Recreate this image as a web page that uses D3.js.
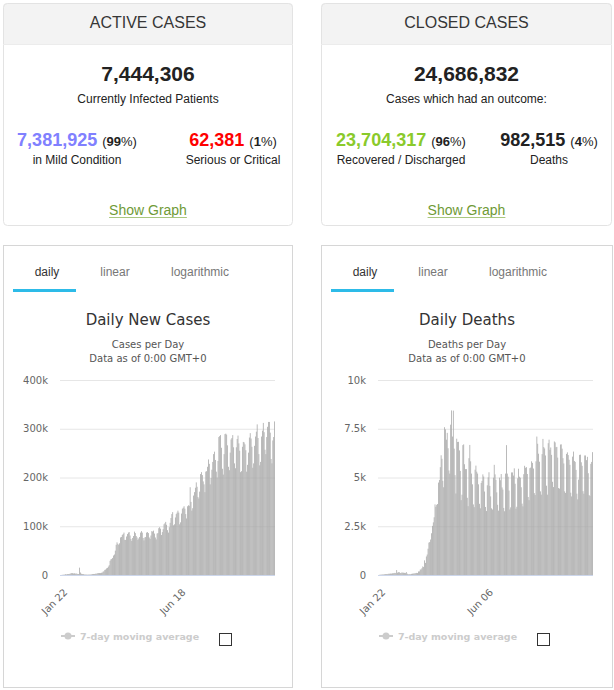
<!DOCTYPE html>
<html>
<head>
<meta charset="utf-8">
<script src="https://cdn.jsdelivr.net/npm/d3@7"></script>
<style>
body { margin: 0; background: #fff; }
#page { width: 614px; height: 690px; }
</style>
</head>
<body>
<div id="page"></div>
<script>
// daily values from Jan 22, 2020 (one per day)
var startDate = new Date(2020, 0, 22)

var casesDaily = [
    0, 100, 300, 500, 700, 800, 1700,
    1300, 1800, 2000, 2100, 2600, 3200, 3900,
    3700, 3200, 3500, 2700, 3100, 2600, 2100,
    2000, 15100, 5100, 2600, 2100, 2000, 1900,
    600, 1000, 900, 700, 800, 900, 900,
    1100, 1400, 1800, 2100, 1900, 2600, 2700,
    2900, 3900, 3900, 4000, 3900, 4500, 4900,
    7000, 7600, 10500, 11200, 13500, 14600, 17200,
    20000, 29000, 32000, 33000, 35000, 40000, 42000,
    50000, 62000, 67000, 64000, 62000, 65000, 77000,
    78000, 82000, 84000, 87000, 72000, 72000, 79000,
    84000, 87000, 88000, 81000, 74000, 70000, 76000,
    80000, 89000, 86000, 80000, 77000, 72000, 75000,
    78000, 87000, 90000, 87000, 76000, 71000, 77000,
    78000, 87000, 88000, 86000, 77000, 74000, 81000,
    90000, 89000, 91000, 85000, 77000, 73000, 85000,
    86000, 96000, 98000, 95000, 82000, 88000, 94000,
    104000, 106000, 109000, 103000, 92000, 87000, 98000,
    107000, 117000, 125000, 129000, 102000, 104000, 118000,
    125000, 128000, 132000, 128000, 104000, 108000, 126000,
    136000, 138000, 141000, 136000, 125000, 116000, 141000,
    143000, 142000, 180000, 150000, 132000, 137000, 163000,
    170000, 179000, 190000, 181000, 160000, 157000, 171000,
    207000, 211000, 205000, 192000, 186000, 170000, 212000,
    213000, 222000, 237000, 228000, 186000, 199000, 216000,
    232000, 248000, 253000, 236000, 212000, 200000, 234000,
    283000, 285000, 287000, 261000, 218000, 206000, 248000,
    289000, 290000, 288000, 266000, 222000, 215000, 251000,
    278000, 281000, 287000, 262000, 229000, 219000, 262000,
    279000, 286000, 270000, 255000, 211000, 213000, 263000,
    273000, 272000, 268000, 256000, 212000, 226000, 251000,
    282000, 291000, 280000, 263000, 220000, 229000, 265000,
    284000, 294000, 309000, 281000, 248000, 225000, 232000,
    284000, 296000, 312000, 293000, 257000, 248000, 283000,
    304000, 314000, 314000, 292000, 238000, 229000, 276000,
    283000, 315000
]

var deathsDaily = [
    0, 8, 16, 15, 24, 26, 26,
    38, 43, 46, 45, 57, 64, 66,
    73, 73, 86, 89, 97, 108, 97,
    254, 121, 143, 142, 105, 98, 136,
    115, 118, 109, 97, 150, 71, 52,
    29, 44, 37, 58, 67, 72, 84,
    80, 100, 108, 100, 182, 186, 280,
    285, 350, 440, 410, 750, 620, 950,
    1050, 1350, 1660, 1690, 1820, 2140, 2520,
    2700, 2960, 3620, 3500, 3600, 3640, 4740,
    4870, 5530, 6140, 5960, 4830, 4500, 7580,
    7470, 6940, 7290, 6500, 5360, 5200, 7710,
    8440, 7100, 8430, 6480, 5120, 4180, 6990,
    6820, 6830, 6390, 5340, 3840, 4120, 6660,
    6700, 5680, 5430, 5430, 3960, 3530, 5990,
    6670, 5830, 5200, 4650, 3620, 3480, 5400,
    5610, 5300, 5200, 4650, 3650, 3420, 4720,
    4830, 5160, 5050, 4280, 3490, 3280, 4600,
    5010, 5270, 4570, 4030, 3420, 3360, 4990,
    5650, 5160, 4880, 4240, 3600, 3300, 4990,
    4860, 5180, 4490, 4380, 3440, 3270, 5200,
    6660, 5200, 5040, 4330, 3360, 3470, 5260,
    5260, 5100, 5470, 4680, 3400, 3500, 4960,
    5450, 5040, 4990, 4500, 3660, 3520, 5170,
    5600, 5500, 5530, 5180, 4000, 3840, 5480,
    5510, 5830, 5750, 5460, 4200, 4100, 5830,
    7100, 6730, 6220, 5810, 4290, 4120, 6200,
    6980, 6560, 6490, 6130, 4580, 4120, 6760,
    6940, 6420, 6540, 6160, 4780, 4510, 6850,
    6800, 6550, 6570, 6020, 4460, 4430, 6690,
    6700, 6480, 5990, 5720, 4290, 4210, 6210,
    6290, 6150, 5910, 5650, 4220, 4030, 6070,
    6330, 5850, 5800, 5390, 4170, 3880, 4890,
    6160, 6170, 5780, 5600, 4300, 4170, 6130,
    6130, 5890, 6060, 5220, 4100, 4050, 5700,
    5800, 6300
]

var casesTicks = [0, 100000, 200000, 300000, 400000]
var deathsTicks = [0, 2500, 5000, 7500, 10000]
var casesDateTicks = ["Jan 22", "Jun 18"]
var deathsDateTicks = ["Jan 22", "Jun 06"]
var tabNames = ["daily", "linear", "logarithmic"]

var cardTitles = ["ACTIVE CASES", "CLOSED CASES"]
var cardTotals = ["7,444,306", "24,686,832"]
var cardCaptions = ["Currently Infected Patients", "Cases which had an outcome:"]
var cardParts = [
    [{value: "7,381,925", pct: "99", label: "in Mild Condition", color: "#8080ff"},
     {value: "62,381", pct: "1", label: "Serious or Critical", color: "#ff0000"}],
    [{value: "23,704,317", pct: "96", label: "Recovered / Discharged", color: "#8aca2b"},
     {value: "982,515", pct: "4", label: "Deaths", color: "#222"}]
]

var width = 614
var height = 690
var svg

createPage()

function createPage()
{
    svg = d3.select("#page")
        .append("svg")
        .attr("width", width)
        .attr("height", height)
        .attr("display", "block")

    drawCard(0, 3, 290, [77, 233])
    drawCard(1, 321, 291, [401, 549])

    drawChart(3, 290, casesDaily, casesTicks, casesDateTicks, "Daily New Cases", "Cases per Day")
    drawChart(321, 292, deathsDaily, deathsTicks, deathsDateTicks, "Daily Deaths", "Deaths per Day")
}

function drawCard(i, x0, w, centers)
{
    var g = svg.append("g")
    var cx = x0 + w / 2

    g.append("defs").append("clipPath")
        .attr("id", "card-clip" + i)
        .append("rect")
        .attr("x", x0).attr("y", 3)
        .attr("width", w).attr("height", 223)
        .attr("rx", 4)

    g.append("rect")
        .attr("x", x0).attr("y", 3)
        .attr("width", w).attr("height", 41)
        .attr("fill", "#f3f3f3")
        .attr("clip-path", "url(#card-clip" + i + ")")
    g.append("rect")
        .attr("x", x0 + 0.5).attr("y", 3.5)
        .attr("width", w - 1).attr("height", 222)
        .attr("rx", 4)
        .attr("fill", "none")
        .attr("stroke", "#e3e3e3")
    g.append("line")
        .attr("x1", x0).attr("x2", x0 + w)
        .attr("y1", 44.5).attr("y2", 44.5)
        .attr("stroke", "#ececec")

    g.append("text")
        .attr("x", cx).attr("y", 28)
        .attr("text-anchor", "middle")
        .style("font", "16px 'Liberation Sans', Arial, sans-serif")
        .attr("fill", "#363636")
        .text(cardTitles[i])

    g.append("text")
        .attr("x", cx).attr("y", 81)
        .attr("text-anchor", "middle")
        .style("font", "bold 21px 'Liberation Sans', Arial, sans-serif")
        .attr("fill", "#222")
        .text(cardTotals[i])

    g.append("text")
        .attr("x", cx).attr("y", 103)
        .attr("text-anchor", "middle")
        .style("font", "12px 'Liberation Sans', Arial, sans-serif")
        .attr("fill", "#222")
        .text(cardCaptions[i])

    cardParts[i].forEach(function(p, j)
    {
        var t = g.append("text")
            .attr("x", centers[j]).attr("y", 146)
            .attr("text-anchor", "middle")
            .style("font-family", "'Liberation Sans', Arial, sans-serif")
        t.append("tspan")
            .style("font-size", "18px").style("font-weight", "bold")
            .attr("fill", p.color)
            .text(p.value + " ")
        t.append("tspan")
            .style("font-size", "13px")
            .attr("fill", "#222")
            .text("(")
        t.append("tspan")
            .style("font-size", "13px").style("font-weight", "bold")
            .attr("fill", "#222")
            .text(p.pct)
        t.append("tspan")
            .style("font-size", "13px")
            .attr("fill", "#222")
            .text("%)")

        g.append("text")
            .attr("x", centers[j]).attr("y", 164)
            .attr("text-anchor", "middle")
            .style("font", "12px 'Liberation Sans', Arial, sans-serif")
            .attr("fill", "#222")
            .text(p.label)
    })

    var link = g.append("text")
        .attr("x", cx).attr("y", 215)
        .attr("text-anchor", "middle")
        .style("font", "14px 'Liberation Sans', Arial, sans-serif")
        .attr("fill", "#6f9a36")
        .text("Show Graph")
    var lw = link.node().getComputedTextLength()
    g.append("line")
        .attr("x1", cx - lw / 2).attr("x2", cx + lw / 2)
        .attr("y1", 217.5).attr("y2", 217.5)
        .attr("stroke", "#a9c77f")
}

function drawChart(x0, w, values, ticks, dateTicks, title, subtitle)
{
    var g = svg.append("g")
    var cx = x0 + w / 2
    var plot = {left: x0 + 57, right: x0 + 272, top: 380, bottom: 575}

    // panel frame
    g.append("rect")
        .attr("x", x0 + 0.5).attr("y", 245.5)
        .attr("width", w - 1).attr("height", 442)
        .attr("fill", "#fff")
        .attr("stroke", "#d6d6d6")

    // tabs
    var tabCenters = [44, 112, 197]
    tabNames.forEach(function(t, k)
    {
        g.append("text")
            .attr("x", x0 + tabCenters[k]).attr("y", 276)
            .attr("text-anchor", "middle")
            .style("font", "12px 'Liberation Sans', Arial, sans-serif")
            .attr("fill", k == 0 ? "#333" : "#777")
            .text(t)
    })
    g.append("rect")
        .attr("x", x0 + 10).attr("y", 289)
        .attr("width", 63).attr("height", 3)
        .attr("fill", "#2dbbe8")

    // titles
    g.append("text")
        .attr("x", cx).attr("y", 325)
        .attr("text-anchor", "middle")
        .style("font", "15px 'DejaVu Sans', Verdana, sans-serif")
        .attr("fill", "#333")
        .text(title)
    g.append("text")
        .attr("x", cx).attr("y", 348)
        .attr("text-anchor", "middle")
        .style("font", "10px 'DejaVu Sans', Verdana, sans-serif")
        .attr("fill", "#555")
        .text(subtitle)
    g.append("text")
        .attr("x", cx).attr("y", 362)
        .attr("text-anchor", "middle")
        .style("font", "10px 'DejaVu Sans', Verdana, sans-serif")
        .attr("fill", "#555")
        .text("Data as of 0:00 GMT+0")

    var dates = d3.timeDay.range(startDate, d3.timeDay.offset(startDate, values.length))
    var fmt = d3.timeFormat("%b %d")

    var xScale = d3.scaleBand()
        .domain(dates.map(fmt))
        .range([plot.left, plot.right])
        .paddingInner(0.12)
        .paddingOuter(0.05)

    var yScale = d3.scaleLinear()
        .domain([0, ticks[ticks.length - 1]])
        .range([plot.bottom, plot.top])

    var yAxis = d3.axisLeft(yScale)
        .tickValues(ticks)
        .tickSize(plot.right - plot.left)
        .tickFormat(function(d) { return d == 0 ? "0" : (d / 1000) + "k" })

    var ya = g.append("g")
        .attr("transform", "translate(" + plot.right + ",0)")
        .call(yAxis)
    ya.select(".domain").remove()
    ya.selectAll("line").attr("stroke", "#e6e6e6")
    ya.selectAll("text")
        .attr("x", -(plot.right - plot.left) - 12)
        .attr("dy", "0.32em")
        .style("font", "10px 'DejaVu Sans', Verdana, sans-serif")
        .attr("fill", "#666")

    g.append("g")
        .selectAll("rect")
        .data(values)
        .join("rect")
        .attr("x", function(d, k) { return xScale(fmt(dates[k])) })
        .attr("width", xScale.bandwidth())
        .attr("y", function(d) { return yScale(d) })
        .attr("height", function(d) { return plot.bottom - yScale(d) })
        .attr("fill", "#a6a6a6")

    g.append("line")
        .attr("x1", plot.left).attr("x2", plot.right)
        .attr("y1", plot.bottom + 0.5).attr("y2", plot.bottom + 0.5)
        .attr("stroke", "#ccd6eb")

    // rotated date labels
    dateTicks.forEach(function(label)
    {
        var tx = xScale(label) + xScale.bandwidth() / 2
        var ax = Math.max(tx - 3, plot.left + 8)
        g.append("text")
            .attr("transform", "translate(" + ax + "," + (plot.bottom + 18) + ")rotate(-45)")
            .attr("text-anchor", "end")
            .style("font", "10px 'DejaVu Sans', Verdana, sans-serif")
            .attr("fill", "#666")
            .text(label)
    })

    // legend (hidden series) + checkbox
    var ly = 636
    g.append("line")
        .attr("x1", plot.left + 1).attr("x2", plot.left + 15)
        .attr("y1", ly).attr("y2", ly)
        .attr("stroke", "#ccc").attr("stroke-width", 2)
    g.append("circle")
        .attr("cx", plot.left + 8).attr("cy", ly)
        .attr("r", 3.5)
        .attr("fill", "#ccc")
    g.append("text")
        .attr("x", plot.left + 20).attr("y", ly + 4)
        .style("font", "bold 9.5px 'DejaVu Sans', Verdana, sans-serif")
        .attr("fill", "#ccc")
        .text("7-day moving average")
    g.append("rect")
        .attr("x", plot.left + 159.5).attr("y", 633.5)
        .attr("width", 12).attr("height", 12)
        .attr("fill", "#fff")
        .attr("stroke", "#333")
}
</script>
</body>
</html>
